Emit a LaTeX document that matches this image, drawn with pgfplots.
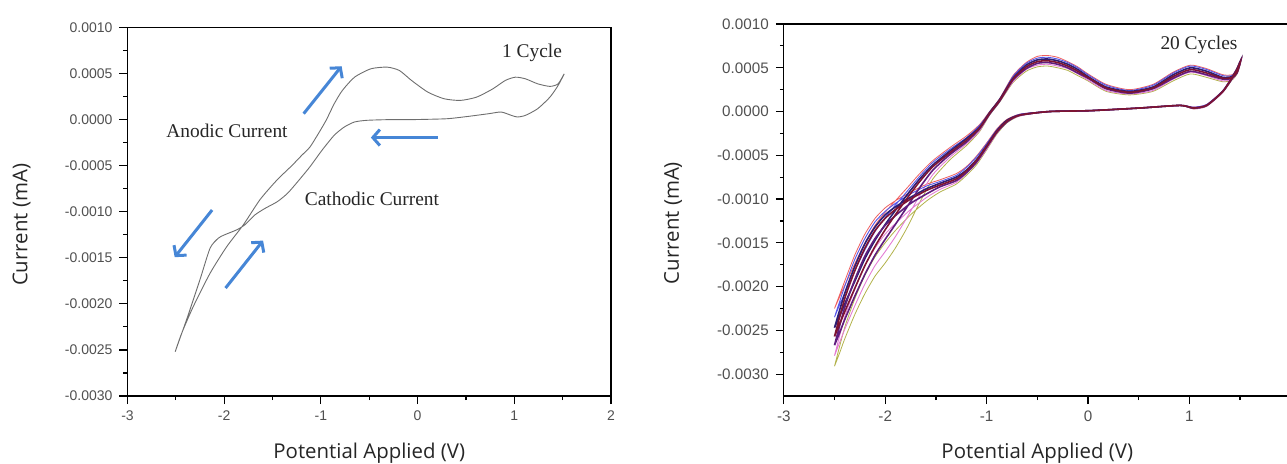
\documentclass[border=0pt]{standalone}
\usepackage{fontspec}
\setmainfont{Liberation Sans}
\newfontfamily\serifann{Liberation Serif}
\newfontfamily\labelfont{Open Sans}
\usepackage{pgfplots}
\pgfplotsset{compat=1.18}
\usepackage{pgfplotstable}
\usetikzlibrary{arrows.meta}

\definecolor{arrowblue}{RGB}{70,134,214}
\definecolor{ticklab}{RGB}{80,80,80}
\definecolor{cvgray}{RGB}{110,110,110}
\definecolor{cRed}{RGB}{238,95,95}
\definecolor{cBlue}{RGB}{85,85,235}
\definecolor{cNavy}{RGB}{45,30,115}
\definecolor{cMaroon}{RGB}{125,20,50}
\definecolor{cPurple}{RGB}{95,30,125}
\definecolor{cMag}{RGB}{228,125,212}
\definecolor{cOlive}{RGB}{178,178,75}

% one cycle: forward (upper) branch then return (lower) branch
\pgfplotstableread{
V I
-2.507 -0.002520
-2.440 -0.002320
-2.320 -0.002030
-2.147 -0.001670
-1.974 -0.001380
-1.800 -0.001140
-1.630 -0.000870
-1.457 -0.000660
-1.300 -0.000500
-1.199 -0.000390
-1.114 -0.000300
-1.030 -0.000160
-0.946 -0.000009
-0.862 0.000171
-0.778 0.000315
-0.652 0.000459
-0.483 0.000550
-0.315 0.000568
-0.189 0.000532
-0.062 0.000423
0.106 0.000297
0.274 0.000225
0.443 0.000207
0.611 0.000243
0.779 0.000333
0.906 0.000423
1.011 0.000459
1.116 0.000441
1.242 0.000387
1.369 0.000359
1.453 0.000387
1.516 0.000495
1.453 0.000369
1.369 0.000243
1.242 0.000117
1.116 0.000045
1.032 0.000027
0.969 0.000045
0.864 0.000081
0.737 0.000063
0.527 0.000034
0.316 0.000009
0.106 0.000002
-0.104 -0.000002
-0.315 -0.000002
-0.525 -0.000009
-0.652 -0.000027
-0.757 -0.000081
-0.862 -0.000171
-0.988 -0.000333
-1.114 -0.000514
-1.241 -0.000676
-1.346 -0.000802
-1.451 -0.000892
-1.577 -0.000964
-1.683 -0.001036
-1.788 -0.001144
-1.872 -0.001198
-1.998 -0.001252
-2.061 -0.001288
-2.146 -0.001396
-2.251 -0.001739
-2.377 -0.002135
-2.507 -0.002520
}\onecycle

% twenty cycles: a few representative traces of the bundle
\pgfplotstableread{
V r b n m p g o
-2.50 -0.00225 -0.00235 -0.00247 -0.00257 -0.00267 -0.00279 -0.00291
-2.45 -0.00212 -0.00221 -0.00234 -0.00243 -0.00253 -0.00264 -0.00276
-2.40 -0.00199 -0.00208 -0.00220 -0.00229 -0.00238 -0.00249 -0.00260
-2.30 -0.00174 -0.00182 -0.00194 -0.00202 -0.00211 -0.00222 -0.00232
-2.20 -0.00150 -0.00158 -0.00168 -0.00176 -0.00186 -0.00197 -0.00208
-2.10 -0.00130 -0.00137 -0.00147 -0.00154 -0.00164 -0.00176 -0.00188
-2.00 -0.00115 -0.00121 -0.00129 -0.00135 -0.00146 -0.00160 -0.00173
-1.90 -0.00102 -0.00107 -0.00113 -0.00118 -0.00129 -0.00143 -0.00156
-1.79 -0.00088 -0.00092 -0.00096 -0.00100 -0.00110 -0.00122 -0.00134
-1.66 -0.00071 -0.00074 -0.00077 -0.00080 -0.00087 -0.00096 -0.00104
-1.53 -0.00056 -0.00058 -0.00061 -0.00063 -0.00067 -0.00072 -0.00077
-1.36 -0.00041 -0.00043 -0.00045 -0.00047 -0.00049 -0.00052 -0.00055
-1.20 -0.00028 -0.00030 -0.00031 -0.00033 -0.00035 -0.00037 -0.00039
-1.07 -0.00015 -0.00016 -0.00018 -0.00019 -0.00020 -0.00022 -0.00023
-0.97 0.00000 -0.00001 -0.00001 -0.00002 -0.00003 -0.00003 -0.00004
-0.87 0.00015 0.00014 0.00014 0.00013 0.00012 0.00012 0.00011
-0.74 0.00041 0.00040 0.00038 0.00037 0.00036 0.00034 0.00033
-0.61 0.00056 0.00055 0.00053 0.00051 0.00049 0.00048 0.00046
-0.50 0.00063 0.00061 0.00059 0.00057 0.00055 0.00053 0.00051
-0.40 0.00064 0.00062 0.00060 0.00058 0.00056 0.00054 0.00052
-0.30 0.00062 0.00060 0.00058 0.00056 0.00054 0.00052 0.00050
-0.20 0.00057 0.00056 0.00054 0.00052 0.00050 0.00049 0.00047
-0.10 0.00051 0.00050 0.00048 0.00046 0.00044 0.00043 0.00041
0.00 0.00043 0.00042 0.00040 0.00039 0.00038 0.00036 0.00035
0.18 0.00031 0.00030 0.00028 0.00027 0.00026 0.00024 0.00023
0.41 0.00025 0.00024 0.00023 0.00022 0.00021 0.00020 0.00019
0.64 0.00031 0.00030 0.00028 0.00027 0.00026 0.00024 0.00023
0.84 0.00045 0.00044 0.00042 0.00040 0.00038 0.00037 0.00035
1.01 0.00053 0.00052 0.00050 0.00048 0.00046 0.00045 0.00043
1.17 0.00049 0.00048 0.00046 0.00044 0.00042 0.00041 0.00039
1.33 0.00042 0.00041 0.00039 0.00038 0.00037 0.00035 0.00034
1.42 0.00042 0.00041 0.00040 0.00039 0.00038 0.00037 0.00036
1.47 0.00047 0.00046 0.00046 0.00045 0.00044 0.00044 0.00043
1.50 0.00058 0.00057 0.00057 0.00056 0.00055 0.00055 0.00054
1.47 0.00050 0.00049 0.00049 0.00048 0.00047 0.00047 0.00046
1.43 0.00042 0.00041 0.00041 0.00040 0.00039 0.00039 0.00038
1.33 0.00024 0.00024 0.00023 0.00023 0.00023 0.00022 0.00022
1.17 0.00008 0.00008 0.00007 0.00007 0.00007 0.00006 0.00006
1.04 0.00005 0.00005 0.00004 0.00004 0.00004 0.00003 0.00003
0.91 0.00007 0.00007 0.00007 0.00007 0.00007 0.00007 0.00007
0.51 0.00004 0.00004 0.00004 0.00004 0.00004 0.00004 0.00004
0.02 0.00001 0.00001 0.00001 0.00001 0.00001 0.00001 0.00001
-0.38 0.00000 0.00000 0.00000 0.00000 0.00000 0.00000 0.00000
-0.67 -0.00003 -0.00003 -0.00004 -0.00004 -0.00004 -0.00005 -0.00005
-0.80 -0.00009 -0.00010 -0.00010 -0.00011 -0.00012 -0.00012 -0.00013
-0.90 -0.00020 -0.00021 -0.00022 -0.00023 -0.00024 -0.00025 -0.00026
-1.00 -0.00036 -0.00037 -0.00039 -0.00040 -0.00041 -0.00043 -0.00044
-1.10 -0.00051 -0.00052 -0.00055 -0.00056 -0.00058 -0.00059 -0.00061
-1.20 -0.00063 -0.00064 -0.00067 -0.00068 -0.00070 -0.00071 -0.00073
-1.30 -0.00071 -0.00073 -0.00075 -0.00077 -0.00079 -0.00081 -0.00083
-1.46 -0.00078 -0.00080 -0.00082 -0.00084 -0.00086 -0.00089 -0.00092
-1.59 -0.00083 -0.00085 -0.00088 -0.00090 -0.00094 -0.00098 -0.00102
-1.75 -0.00092 -0.00094 -0.00098 -0.00100 -0.00105 -0.00112 -0.00118
-1.90 -0.00102 -0.00105 -0.00109 -0.00112 -0.00119 -0.00128 -0.00136
-2.00 -0.00110 -0.00114 -0.00118 -0.00122 -0.00130 -0.00140 -0.00150
-2.10 -0.00122 -0.00126 -0.00132 -0.00136 -0.00145 -0.00156 -0.00166
-2.20 -0.00140 -0.00145 -0.00151 -0.00156 -0.00165 -0.00176 -0.00187
-2.30 -0.00164 -0.00169 -0.00177 -0.00182 -0.00192 -0.00203 -0.00214
-2.40 -0.00194 -0.00200 -0.00208 -0.00214 -0.00224 -0.00235 -0.00247
-2.50 -0.00225 -0.00235 -0.00247 -0.00257 -0.00267 -0.00279 -0.00291
}\twenty

\pgfplotsset{
  cvaxis/.style={
    scale only axis,
    anchor=south west,
    xmin=-3, xmax=2,
    xtick={-3,-2,-1,0,1,2},
    ytick={-0.003,-0.0025,-0.002,-0.0015,-0.001,-0.0005,0,0.0005,0.001},
    minor tick num=1,
    tick align=outside,
    tick pos=left,
    major tick length=4pt,
    minor tick length=2pt,
    axis line style={line width=0.6pt},
    every tick/.style={black, line width=0.6pt},
    scaled y ticks=false,
    yticklabel style={/pgf/number format/.cd, fixed, fixed zerofill, precision=4},
    /pgf/number format/assume math mode=true,
    tick label style={text=ticklab},
    xlabel={Potential Applied (V)},
    ylabel={Current (mA)},
    label style={font=\labelfont\fontsize{10.2}{12}\selectfont, text=black!85},
    clip=false,
  },
}
\tikzset{
  ann/.style={font=\serifann\fontsize{9.7}{11}\selectfont, text=black!85},
  arr/.style={arrowblue, line width=1.5pt, -{Straight Barb[length=3.5pt,width=8pt,line width=1.5pt]}},
}

\begin{document}
\begin{tikzpicture}
\useasboundingbox (0,0) rectangle (643.5pt,231.5pt);

% ---------------- left: 1 cycle ----------------
\begin{axis}[cvaxis,
  at={(63.75pt,33.5pt)},
  width=241.75pt, height=184.35pt,
  ymin=-0.003, ymax=0.001,
  tick label style={font=\fontsize{7}{8}\selectfont},
  xlabel style={at={(axis description cs:0.5,-0.155)}, anchor=center},
  ylabel style={at={(axis description cs:-0.219,0.464)}, anchor=center},
]
\addplot[cvgray, line width=0.45pt, mark=none, smooth, tension=0.4] table[x=V,y=I]{\onecycle};
\node[ann] at (axis cs:1.183,0.000721) {1 Cycle};
\node[ann] at (axis cs:-1.971,-0.000125) {Anodic Current};
\node[ann] at (axis cs:-0.472,-0.000862) {Cathodic Current};
\draw[arr] (axis cs:-1.178,0.0000631) -- (axis cs:-0.786,0.000578);
\draw[arr] (axis cs:0.211,-0.000196) -- (axis cs:-0.483,-0.000196);
\draw[arr] (axis cs:-2.125,-0.000982) -- (axis cs:-2.512,-0.001494);
\draw[arr] (axis cs:-1.986,-0.001829) -- (axis cs:-1.598,-0.001314);
\end{axis}

% ---------------- right: 20 cycles ----------------
\begin{axis}[cvaxis,
  at={(391.9pt,33.5pt)},
  width=253.5pt, height=186pt,
  ymin=-0.00325, ymax=0.001,
  tick label style={font=\fontsize{7.6}{8.6}\selectfont},
  xlabel style={at={(axis description cs:0.5,-0.153)}, anchor=center},
  ylabel style={at={(axis description cs:-0.2185,0.465)}, anchor=center},
]
\addplot[cOlive, line width=0.4pt, mark=none, smooth, tension=0.4] table[x=V,y=o]{\twenty};
\addplot[cRed, line width=0.4pt, mark=none, smooth, tension=0.4] table[x=V,y=r]{\twenty};
\addplot[cMag, line width=0.45pt, mark=none, smooth, tension=0.4] table[x=V,y=g]{\twenty};
\addplot[cBlue, line width=0.45pt, mark=none, smooth, tension=0.4] table[x=V,y=b]{\twenty};
\addplot[cNavy, line width=0.8pt, mark=none, smooth, tension=0.4] table[x=V,y=n]{\twenty};
\addplot[cPurple, line width=0.8pt, mark=none, smooth, tension=0.4] table[x=V,y=p]{\twenty};
\addplot[cMaroon, line width=0.8pt, mark=none, smooth, tension=0.4] table[x=V,y=m]{\twenty};
\node[ann] at (axis cs:1.095,0.00076) {20 Cycles};
\end{axis}
\end{tikzpicture}
\end{document}
